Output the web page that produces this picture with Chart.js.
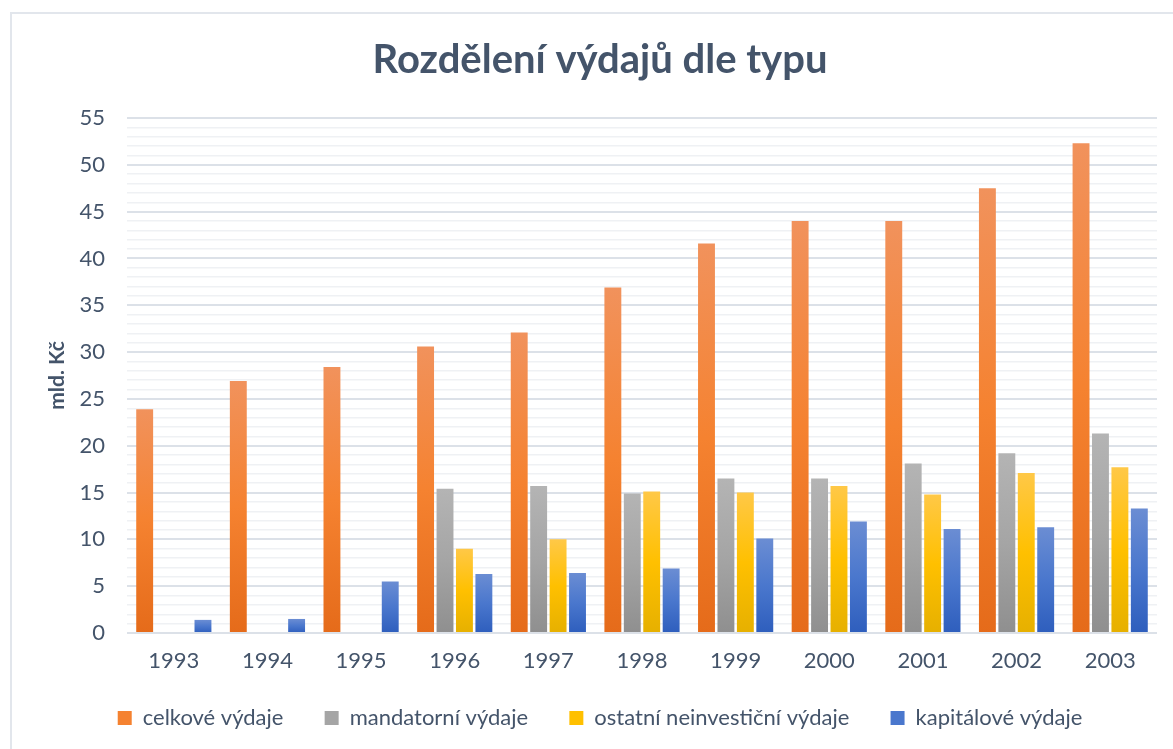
<!DOCTYPE html>
<html>
<head>
<meta charset="utf-8">
<script src="https://cdn.jsdelivr.net/npm/chart.js@4.4.1/dist/chart.umd.min.js"></script>
<style>
  body { margin: 0; background: #fff; overflow: hidden; }
  #frame {
    position: absolute; left: 10px; top: 12px; width: 1200px; height: 800px;
    border: 2px solid #e2e6ec; box-sizing: border-box;
  }
  #wrap { position: absolute; left: 10px; top: 0; width: 1180px; height: 749px; }
</style>
</head>
<body>
<div id="frame"></div>
<div id="wrap"><canvas id="chart"></canvas></div>
<script>
const years = ['1993', '1994', '1995', '1996', '1997', '1998', '1999', '2000', '2001', '2002', '2003'];
const celkove = [23.9, 26.9, 28.4, 30.6, 32.1, 36.9, 41.6, 44.0, 44.0, 47.5, 52.3];
const mandatorni = [null, null, null, 15.4, 15.7, 14.9, 16.5, 16.5, 18.1, 19.2, 21.3];
const ostatni = [null, null, null, 9.0, 10.0, 15.1, 15.0, 15.7, 14.8, 17.1, 17.7];
const kapitalove = [1.4, 1.5, 5.5, 6.3, 6.4, 6.9, 10.1, 11.9, 11.1, 11.3, 13.3];

const textColor = '#44546a';
const fontFamily = 'Lato, "Open Sans", sans-serif';

// top, middle, bottom of each bar
const shades = {
  orange: ['#f1925c', '#f58230', '#e56b1a'],
  gray: ['#b4b4b4', '#a5a5a5', '#8f8f8f'],
  yellow: ['#ffc847', '#ffc000', '#e6b000'],
  blue: ['#6b8dd3', '#4a77cd', '#2e5ebd']
};

function barGradient(colors) {
  return function(context) {
    const chart = context.chart;
    const y = chart.scales.y;
    const v = context.raw;
    if (!chart.chartArea || !y || v == null) return colors[1];
    const top = y.getPixelForValue(v);
    const bottom = y.getPixelForValue(0);
    if (bottom - top < 1) return colors[1];
    const g = chart.ctx.createLinearGradient(0, top, 0, bottom);
    g.addColorStop(0, colors[0]);
    g.addColorStop(0.5, colors[1]);
    g.addColorStop(1, colors[2]);
    return g;
  };
}

function makeDataset(label, data, colors) {
  return {
    label: label,
    data: data,
    backgroundColor: barGradient(colors),
    legendColor: colors[1],
    borderWidth: 0,
    categoryPercentage: 0.83,
    barPercentage: 0.87
  };
}

const chartCanvas = document.getElementById('chart');
const myChart = new Chart(chartCanvas, {
  type: 'bar',
  data: {
    labels: years,
    datasets: [
      makeDataset('celkové výdaje', celkove, shades.orange),
      makeDataset('mandatorní výdaje', mandatorni, shades.gray),
      makeDataset('ostatní neinvestiční výdaje', ostatni, shades.yellow),
      makeDataset('kapitálové výdaje', kapitalove, shades.blue)
    ]
  },
  options: {
    responsive: true,
    maintainAspectRatio: false,
    animation: false,
    layout: { padding: { left: 33, right: 33, top: 0, bottom: 10 } },
    plugins: {
      title: {
        display: true,
        text: 'Rozdělení výdajů dle typu',
        color: textColor,
        font: { family: fontFamily, size: 40, weight: 'bold' },
        padding: { top: 36, bottom: 34 }
      },
      legend: {
        position: 'bottom',
        labels: {
          color: textColor,
          font: { family: fontFamily, size: 22 },
          boxWidth: 14,
          boxHeight: 14,
          padding: 30,
          generateLabels: function(chart) {
            const last = chart.data.datasets.length - 1;
            return chart.data.datasets.map((ds, i) => ({
              // extra spaces widen the gap between entries
              text: i < last ? ds.label + '\u00a0\u00a0' : ds.label,
              fillStyle: ds.legendColor,
              strokeStyle: ds.legendColor,
              lineWidth: 0,
              fontColor: textColor,
              datasetIndex: i
            }));
          }
        }
      },
      tooltip: { enabled: false }
    },
    scales: {
      x: {
        afterFit: function(scale) { scale.height = 44; },
        grid: { display: false, drawTicks: false },
        border: { display: false },
        ticks: {
          color: textColor,
          font: { family: fontFamily, size: 22 },
          padding: 15
        }
      },
      y: {
        min: 0,
        max: 55,
        afterFit: function(scale) { scale.width = 84; },
        border: { display: false },
        grid: {
          drawTicks: false,
          color: ctx => (ctx.tick && ctx.tick.value % 5 === 0) ? '#dce1e8' : '#eff1f4',
          lineWidth: ctx => (ctx.tick && ctx.tick.value % 5 === 0) ? 2 : 1.5
        },
        ticks: {
          stepSize: 1,
          autoSkip: false,
          color: textColor,
          font: { family: fontFamily, size: 22 },
          padding: 22,
          callback: value => value % 5 === 0 ? value : ''
        },
        title: {
          display: true,
          text: 'mld. Kč',
          color: textColor,
          font: { family: fontFamily, size: 21, weight: 'bold' },
          padding: { top: 2, bottom: 0 }
        }
      }
    }
  }
});
</script>
</body>
</html>
